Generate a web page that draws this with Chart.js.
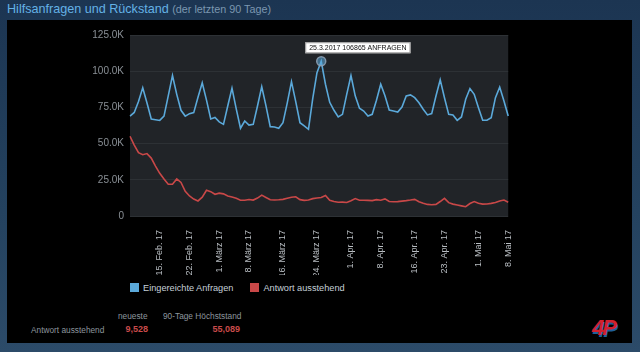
<!DOCTYPE html>
<html>
<head>
<meta charset="utf-8">
<script src="https://cdn.jsdelivr.net/npm/chart.js@4.4.1/dist/chart.umd.min.js"></script>
<style>
  html, body { margin: 0; padding: 0; }
  body {
    width: 640px; height: 352px; overflow: hidden; position: relative;
    background: linear-gradient(180deg, #1c3552 0%, #24425f 60%, #2c4b69 100%);
    font-family: "Liberation Sans", Arial, sans-serif;
  }
  .title { position: absolute; left: 7px; top: 2px; font-size: 12.6px; color: #64b2e6; white-space: nowrap; }
  .title small { font-size: 10.8px; color: #7b97b0; }
  .panel { position: absolute; left: 7px; top: 20px; width: 625px; height: 323px; background: #000; }
  .chart-box { position: absolute; left: 60px; top: 23px; width: 465px; height: 252px; }
  .legend { position: absolute; top: 283px; left: 130px; font-size: 9.2px; color: #c6d0d8; white-space: nowrap; }
  .legend span { display: inline-block; margin-right: 17px; }
  .legend i { display: inline-block; width: 9px; height: 9px; vertical-align: -1px; margin-right: 4px; }
  .stats { position: absolute; font-size: 8.3px; color: #8d969e; white-space: nowrap; }
  .stats.red { color: #c94b4b; font-weight: bold; font-size: 9px; }
  .logo { position: absolute; left: 592px; top: 315px; font: italic bold 22px "Liberation Sans", Arial, sans-serif; color: #d1202f; text-shadow: 1px 2px 0 #1f5f9a; letter-spacing: -2px; }
</style>
</head>
<body>
<div class="title">Hilfsanfragen und Rückstand <small>(der letzten 90 Tage)</small></div>
<div class="panel"></div>
<div class="chart-box"><canvas id="backlogChart"></canvas></div>
<div class="legend" id="legend"></div>
<div class="stats" style="left:118px; top:311px;">neueste</div>
<div class="stats" style="left:163px; top:311px;">90-Tage Höchststand</div>
<div class="stats" style="left:31px; top:325px;">Antwort ausstehend</div>
<div class="stats red" style="right:492px; top:324px;" id="latest"></div>
<div class="stats red" style="right:400px; top:324px;" id="peak"></div>
<div class="logo">4P</div>
<script>
const START_DATE = new Date(2017, 1, 8);
const seriesNames = ['Eingereichte Anfragen', 'Antwort ausstehend'];
const seriesColors = ['#5ba9da', '#c94848'];

// Anfragen pro Tag (in Tausend)
const submitted = [
  69, 71.5, 79, 88.5, 78, 67, 66.5, 66, 69, 83,
  97, 84, 73, 69, 70.7, 71.4, 82, 92, 80, 67,
  68, 65, 63.3, 76, 88.3, 74, 60.6, 65.6, 62.8, 63.3,
  76, 89.3, 76, 61.7, 61.5, 60.6, 64.4, 78, 92.8, 79,
  64.4, 62.2, 59.9, 81, 99, 106.865, 91, 78.5, 73, 68.4,
  70.2, 84, 97, 83, 74.4, 72.5, 69.1, 70.2, 80, 91,
  83, 73.2, 72.5, 71.8, 75.3, 82.9, 83.6, 81.7, 78.2, 73.7,
  69.8, 70.7, 82.9, 94, 81.7, 70.2, 69.8, 66.1, 68.4, 80.6,
  88, 84, 74.8, 66.1, 66.1, 67.9, 81.7, 89, 79.4, 69.1
];

// offene Anfragen (in Tausend)
const pending = [
  55.089, 49, 43.7, 42.3, 43.1, 40, 34.5, 29.5, 25.5, 21.9,
  21.9, 25.6, 23.2, 17, 13.8, 11.7, 10.4, 13, 17.8, 16.8,
  15, 15.8, 15.3, 13.8, 13.1, 12.2, 10.9, 10.9, 11.4, 11,
  12.4, 14.4, 12.8, 11.2, 11, 11.2, 11.5, 12.3, 13, 13.3,
  11.3, 10.8, 11, 12, 12.4, 12.8, 14.2, 10.8, 10, 9.5,
  9.6, 9.3, 10.6, 12, 10.9, 10.9, 10.8, 10.6, 11.3, 10.9,
  11.8, 10, 9.8, 9.9, 10.3, 10.6, 11, 11.5, 9.9, 8.8,
  8, 7.8, 8, 10, 12.2, 9.2, 8.2, 7.6, 7, 6.4,
  8.6, 10, 8.8, 8.2, 8.3, 8.7, 9.3, 10.4, 11, 9.528
];

const tickDays = ['15.2.2017', '22.2.2017', '1.3.2017', '8.3.2017', '16.3.2017', '24.3.2017',
  '1.4.2017', '8.4.2017', '16.4.2017', '23.4.2017', '1.5.2017', '8.5.2017'];
const tickLabels = ['15. Feb. 17', '22. Feb. 17', '1. März 17', '8. März 17', '16. März 17', '24. März 17',
  '1. Apr. 17', '8. Apr. 17', '16. Apr. 17', '23. Apr. 17', '1. Mai 17', '8. Mai 17'];
const yTicks = [0, 25000, 50000, 75000, 100000, 125000];

const days = submitted.map((_, i) => {
  const d = new Date(START_DATE);
  d.setDate(d.getDate() + i);
  return `${d.getDate()}.${d.getMonth() + 1}.${d.getFullYear()}`;
});

const submittedValues = submitted.map((v) => Math.round(v * 1000));
const pendingValues = pending.map((v) => Math.round(v * 1000));
const peakIdx = submittedValues.indexOf(Math.max(...submittedValues));

document.getElementById('latest').textContent = pendingValues[pendingValues.length - 1].toLocaleString('en-US');
document.getElementById('peak').textContent = Math.max(...pendingValues).toLocaleString('en-US');
document.getElementById('legend').innerHTML = seriesNames
  .map((name, i) => `<span><i style="background:${seriesColors[i]}"></i>${name}</span>`)
  .join('');

const plotBackground = {
  id: 'plotBackground',
  beforeDraw(chart) {
    const { ctx, chartArea: a } = chart;
    ctx.save();
    ctx.fillStyle = '#212428';
    ctx.fillRect(a.left, a.top, a.right - a.left, a.bottom - a.top);
    ctx.restore();
  }
};

const peakLabel = {
  id: 'peakLabel',
  afterDatasetsDraw(chart) {
    const el = chart.getDatasetMeta(0).data[peakIdx];
    if (!el) return;
    const { ctx } = chart;
    ctx.save();
    ctx.beginPath();
    ctx.arc(el.x, el.y, 4.5, 0, Math.PI * 2);
    ctx.fillStyle = 'rgba(91,169,218,0.55)';
    ctx.fill();
    ctx.lineWidth = 1.5;
    ctx.strokeStyle = 'rgba(140,160,180,0.9)';
    ctx.stroke();

    const text = `${days[peakIdx]} ${submittedValues[peakIdx]} ANFRAGEN`;
    ctx.font = '7px "Liberation Sans", Arial, sans-serif';
    const w = ctx.measureText(text).width + 8;
    const left = el.x - 16;
    const top = el.y - 19;
    ctx.fillStyle = '#ffffff';
    ctx.fillRect(left, top, w, 11);
    ctx.strokeStyle = '#9a9a9a';
    ctx.lineWidth = 1;
    ctx.strokeRect(left + 0.5, top + 0.5, w - 1, 10);
    ctx.fillStyle = '#111';
    ctx.textBaseline = 'middle';
    ctx.fillText(text, left + 4, top + 6);
    ctx.restore();
  }
};

new Chart(document.getElementById('backlogChart'), {
  type: 'line',
  data: {
    labels: days,
    datasets: [
      { label: seriesNames[0], data: submittedValues, borderColor: seriesColors[0] },
      { label: seriesNames[1], data: pendingValues, borderColor: seriesColors[1] }
    ]
  },
  options: {
    responsive: true,
    maintainAspectRatio: false,
    animation: false,
    layout: { padding: { top: 12, right: 12 } },
    elements: {
      line: { borderWidth: 1.6, tension: 0, fill: false },
      point: { radius: 0, hoverRadius: 0 }
    },
    plugins: { legend: { display: false }, tooltip: { enabled: false } },
    scales: {
      x: {
        grid: { display: false },
        border: { display: false },
        ticks: {
          autoSkip: false,
          minRotation: 90,
          maxRotation: 90,
          padding: 6,
          color: '#b9bec3',
          font: { size: 9, family: '"Liberation Sans", Arial, sans-serif' },
          callback: (value, i) => {
            const pos = tickDays.indexOf(days[i]);
            return pos >= 0 ? tickLabels[pos] : null;
          }
        },
        afterFit: (scale) => { scale.height = 59; }
      },
      y: {
        min: 0,
        max: 125000,
        grid: { color: '#2d3135', drawTicks: false },
        border: { display: false },
        afterBuildTicks: (scale) => { scale.ticks = yTicks.map((value) => ({ value })); },
        ticks: {
          padding: 6,
          color: '#8a9096',
          font: { size: 10, family: '"Liberation Sans", Arial, sans-serif' },
          callback: (v) => (v === 0 ? '0' : `${(v / 1000).toFixed(1)}K`)
        },
        afterFit: (scale) => { scale.width = 70; }
      }
    }
  },
  plugins: [plotBackground, peakLabel]
});
</script>
</body>
</html>
